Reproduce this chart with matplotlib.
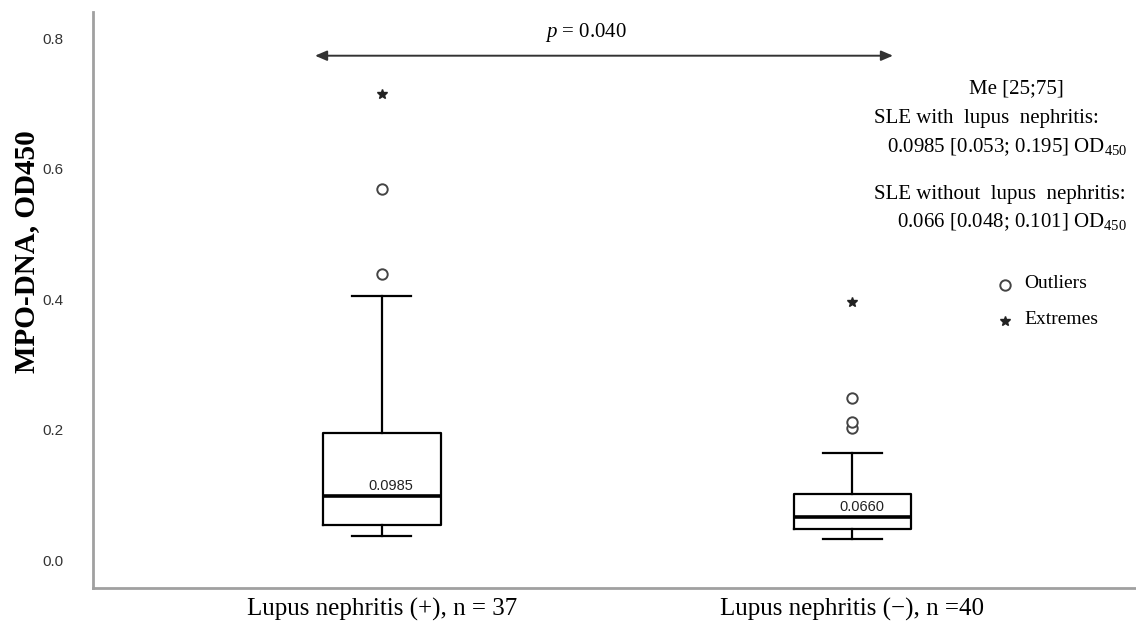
import matplotlib
matplotlib.use("Agg")
import matplotlib.pyplot as plt

plt.rcParams['mathtext.fontset'] = 'custom'
plt.rcParams['mathtext.rm'] = 'Liberation Serif'
plt.rcParams['mathtext.it'] = 'Liberation Serif:italic'

# ---- data ----
groups = ["Lupus nephritis (+), n = 37", "Lupus nephritis (\u2212), n =40"]
medians = [0.0985, 0.066]
q1 = [0.053, 0.048]
q3 = [0.195, 0.101]
whisk_lo = [0.037, 0.032]
whisk_hi = [0.405, 0.164]
outliers = [[0.439, 0.569], [0.202, 0.212, 0.249]]
extremes = [[0.715], [0.396]]
median_labels = ["0.0985", "0.0660"]
yticks = [0.0, 0.2, 0.4, 0.6, 0.8]
p_text = "$p$ = 0.040"

W, H = 1136, 623
fig = plt.figure(figsize=(W / 100, H / 100), dpi=100)
ax = fig.add_axes([93 / W, (H - 588.3) / H, (W - 93) / W, (588.3 - 12) / H])

positions = [1, 2]
stats = []
for i in range(2):
    stats.append(dict(med=medians[i], q1=q1[i], q3=q3[i],
                      whislo=whisk_lo[i], whishi=whisk_hi[i], fliers=[]))

lw = 1.6
ax.bxp(stats, positions=positions, widths=0.25, showfliers=False,
       boxprops=dict(color='black', linewidth=lw),
       whiskerprops=dict(color='black', linewidth=lw),
       capprops=dict(color='black', linewidth=lw),
       medianprops=dict(color='black', linewidth=2.6))

circ_kw = dict(linestyle='none', marker='o', markersize=7.5, markerfacecolor='white',
               markeredgecolor='#444444', markeredgewidth=1.4)
star_kw = dict(linestyle='none', marker='*', markersize=7.5, color='#222222')

for i, pos in enumerate(positions):
    ax.plot([pos] * len(outliers[i]), outliers[i], **circ_kw)
    ax.plot([pos] * len(extremes[i]), extremes[i], **star_kw)
    ax.annotate(median_labels[i], xy=(pos, medians[i]), xytext=(6.5, 7.2),
                textcoords='offset points', ha='center', va='center',
                fontsize=10.5, family='Liberation Sans', color='#222222')

ax.set_xlim(1 - (381.7 - 93) / 470.8, 2 + (W - 852.5) / 470.8)
ax.set_ylim((560 - 588.3) / 652, (560 - 12) / 652)

ax.set_yticks(yticks)
ax.set_yticklabels([f"{t:.1f}" for t in yticks], family='Liberation Sans',
                   fontsize=11, color='#333333')
ax.tick_params(axis='y', length=0, pad=21)
ax.set_xticks(positions)
ax.set_xticklabels(groups, family='Liberation Serif', fontsize=18)
ax.tick_params(axis='x', length=0, pad=7)

for s in ['top', 'right']:
    ax.spines[s].set_visible(False)
for s in ['left', 'bottom']:
    ax.spines[s].set_color('#a0a0a0')
    ax.spines[s].set_linewidth(2)

fig.text(27 / W, 1 - 252 / H, "MPO-DNA, OD450", rotation=90, ha='center', va='center',
         family='Liberation Serif', fontweight='bold', fontsize=21)

# p-value arrow
x_l = 1 + (315 - 381.7) / 470.8
x_r = 2 + (893 - 852.5) / 470.8
y_a = (560 - 55.7) / 652
ax.annotate('', xy=(x_l, y_a), xytext=(x_r, y_a),
            arrowprops=dict(arrowstyle='<|-|>,head_length=0.7,head_width=0.3',
                            color='#333333', lw=1.4, shrinkA=0, shrinkB=0))
ax.text(1 + (586 - 381.7) / 470.8, (560 - 32) / 652, p_text, ha='center', va='center',
        family='Liberation Serif', fontsize=15)

# right annotation block
def ftxt(px, py, s, **kw):
    fig.text(px / W, 1 - py / H, s, va='center', family='Liberation Serif', **kw)

ftxt(1016, 89, "Me [25;75]", ha='center', fontsize=15)
ftxt(874, 118, "SLE with  lupus  nephritis:", ha='left', fontsize=15)
ftxt(1127, 147, "0.0985 [0.053; 0.195] OD$_{450}$", ha='right', fontsize=15)
ftxt(874, 195, "SLE without  lupus  nephritis:", ha='left', fontsize=15)
ftxt(1127, 222, "0.066 [0.048; 0.101] OD$_{450}$", ha='right', fontsize=15)

# legend
xl = 2 + (1005 - 852.5) / 470.8
ax.plot([xl], [(560 - 285) / 652], clip_on=False, **circ_kw)
ax.plot([xl], [(560 - 321) / 652], clip_on=False, **star_kw)
ftxt(1024, 283, "Outliers", ha='left', fontsize=14)
ftxt(1024, 320, "Extremes", ha='left', fontsize=14)

fig.savefig("out.png", dpi=100)
